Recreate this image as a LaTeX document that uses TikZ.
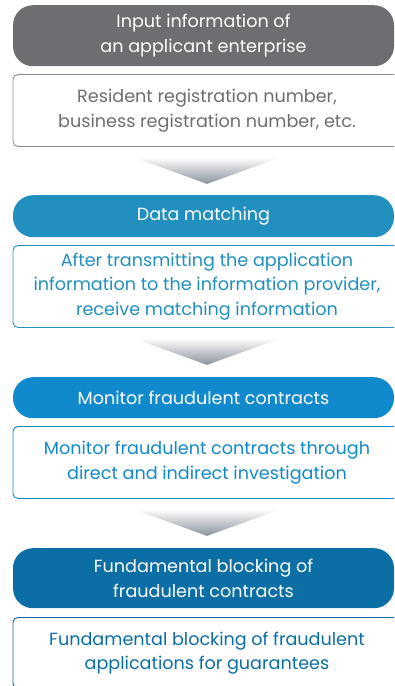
\documentclass[tikz,border=0pt]{standalone}
\usepackage{fontspec}
\setmainfont{Poppins}
\usetikzlibrary{positioning, calc}
\definecolor{grayhead}{HTML}{6D6E71}
\definecolor{grayline}{HTML}{8C8C8E}
\definecolor{bluea}{HTML}{2190BF}
\definecolor{blueb}{HTML}{1189CD}
\definecolor{bluec}{HTML}{0B6FA6}
\definecolor{chevgray}{HTML}{8A939E}

\begin{document}
\begin{tikzpicture}[
  x=1pt, y=1pt,
  font=\fontsize{17.6}{24.5}\selectfont,
  head/.style={rectangle, rounded corners=20pt, text=white, align=center,
               minimum width=381pt, inner sep=0pt},
  body/.style={rectangle, rounded corners=5pt, fill=white, align=center,
               minimum width=388pt, inner sep=0pt, line width=0.9pt},
  chev/.style={top color=gray!6, bottom color=chevgray, draw=none}]
\useasboundingbox (0,0) rectangle (394,-686);
\clip (0,0) rectangle (394,-686);
% --- step 1: input ---
\node[head, fill=grayhead, minimum height=61pt, anchor=north] (h1) at (203.5,-5)
  {Input information of\\ an applicant enterprise};
\node[body, draw=grayline, text=grayhead, minimum height=72pt, anchor=north] (b1) at (207,-74)
  {Resident registration number,\\ business registration number, etc.};
% --- step 2: matching ---
\node[head, fill=bluea, minimum height=42pt, anchor=north] (h2) at (203.5,-195)
  {Data matching};
\node[body, draw=bluea, text=bluea, minimum height=82pt, anchor=north] (b2) at (207,-245)
  {After transmitting the application\\ information to the information provider,\\ receive matching information};
% --- step 3: monitoring ---
\node[head, fill=blueb, minimum height=41pt, anchor=north] (h3) at (203.5,-377)
  {Monitor fraudulent contracts};
\node[body, draw=blueb, text=blueb, minimum height=72pt, anchor=north] (b3) at (207,-426)
  {Monitor fraudulent contracts through\\ direct and indirect investigation};
% --- step 4: blocking ---
\node[head, fill=bluec, minimum height=60pt, anchor=north] (h4) at (203.5,-548)
  {Fundamental blocking of\\ fraudulent contracts};
\node[body, draw=bluec, text=bluec, minimum height=71pt, anchor=north] (b4) at (207,-617)
  {Fundamental blocking of fraudulent\\ applications for guarantees};
% chevrons between the steps
\foreach \b in {b1,b2,b3}
  \shade[chev] ($(\b.south)+(-69,-12)$) -- ($(\b.south)+(69,-12)$) -- ($(\b.south)+(0,-37)$) -- cycle;
\end{tikzpicture}
\end{document}
